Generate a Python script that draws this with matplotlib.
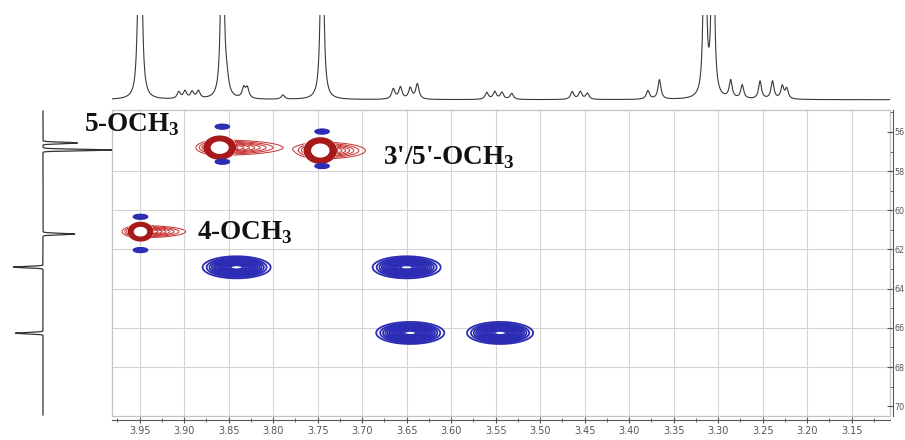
import numpy as np
import matplotlib
matplotlib.use("Agg")
import matplotlib.pyplot as plt
from matplotlib.ticker import MultipleLocator, FormatStrFormatter
from matplotlib.patches import Rectangle

plt.rcParams['mathtext.fontset'] = 'custom'
plt.rcParams['mathtext.rm'] = 'Liberation Serif:bold'
plt.rcParams['mathtext.bf'] = 'Liberation Serif:bold'

# ---------------- data ----------------
# 1H axis (ppm) and 13C axis (ppm)
x_range = (3.981, 3.107)
y_range = (54.88, 70.5)
x_ticks = [3.95, 3.90, 3.85, 3.80, 3.75, 3.70, 3.65, 3.60, 3.55, 3.50,
           3.45, 3.40, 3.35, 3.30, 3.25, 3.20, 3.15]
y_ticks = [56, 58, 60, 62, 64, 66, 68, 70]
y_grid = [58, 60, 62, 64, 66, 68]

# 1H spectrum (top): peak ppm, relative height, half width (ppm)
h1_ppm = [3.952, 3.949, 3.906, 3.899, 3.891, 3.884, 3.857, 3.852, 3.833, 3.829,
          3.789, 3.745, 3.665, 3.657, 3.646, 3.638, 3.560, 3.551, 3.543, 3.532,
          3.464, 3.455, 3.447, 3.379, 3.366, 3.315, 3.306, 3.286, 3.273, 3.253,
          3.239, 3.228, 3.223]
h1_height = [0.45, 4.0, 0.08, 0.09, 0.08, 0.09, 4.0, 0.15, 0.12, 0.12,
             0.05, 4.0, 0.12, 0.14, 0.13, 0.18, 0.08, 0.09, 0.08, 0.07,
             0.09, 0.09, 0.07, 0.10, 0.23, 4.0, 4.0, 0.21, 0.16, 0.21,
             0.21, 0.15, 0.12]
h1_width = [0.0018, 0.0014, 0.0022, 0.0022, 0.0022, 0.0022, 0.0014, 0.0025,
            0.0022, 0.0022, 0.0022, 0.0014, 0.0022, 0.0022, 0.0022, 0.0022,
            0.0022, 0.0022, 0.0022, 0.0022, 0.0022, 0.0022, 0.0022, 0.0022,
            0.0020, 0.0013, 0.0013, 0.0020, 0.0020, 0.0020, 0.0020, 0.0020,
            0.0020]

# 13C projection (left): peak ppm, intensity (positive right, negative left)
c13_ppm = [56.56, 56.92, 61.21, 62.90, 66.27]
c13_int = [0.50, 1.00, 0.46, -0.43, -0.40]
c13_width = 0.035

# positive (red, CH3) cross peaks: 1H ppm, 13C ppm, widths, tail
red_h = [3.860, 3.747, 3.949]
red_c = [56.80, 56.95, 61.09]
red_wh = [0.0110, 0.0112, 0.0085]
red_wc = [0.36, 0.40, 0.29]
red_tail = [0.036, 0.026, 0.026]
red_names = ["5-OCH$_{3}$", "3'/5'-OCH$_{3}$", "4-OCH$_{3}$"]

# negative (blue, CH2) cross peaks
blue_h = [3.841, 3.650, 3.646, 3.545]
blue_c = [62.91, 62.91, 66.26, 66.26]
blue_wh = [0.0170, 0.0170, 0.0170, 0.0165]
blue_wc = [0.25, 0.25, 0.25, 0.25]
# small negative lobes beside the CH3 peaks
lobe_h = [3.857, 3.857, 3.745, 3.745, 3.949, 3.949]
lobe_c = [55.73, 57.52, 55.98, 57.74, 60.33, 62.03]

# ---------------- layout ----------------
W, H = 905, 440
fig = plt.figure(figsize=(W / 100, H / 100), dpi=100)

def rect(x0, y0, x1, y1):
    return [x0 / W, 1 - y1 / H, (x1 - x0) / W, (y1 - y0) / H]

ax = fig.add_axes(rect(112, 110, 890, 416))
ax_top = fig.add_axes(rect(112, 15, 890, 101))
ax_left = fig.add_axes(rect(0, 110, 112, 416))

# ---------------- main 2D ----------------
xg = np.linspace(x_range[0], x_range[1], 1500)
yg = np.linspace(y_range[0], y_range[1], 800)
X, Y = np.meshgrid(xg, yg)

ring = np.zeros_like(X)
tail = np.zeros_like(X)
for h, c, wh, wc, wt in zip(red_h, red_c, red_wh, red_wc, red_tail):
    ring += np.exp(-0.5 * ((X - h) / wh) ** 2 - 0.5 * ((Y - c) / wc) ** 2)
    dx = X - h
    sx = np.where(dx < 0, wt, wh * 1.25)
    tail += np.exp(-0.5 * (dx / sx) ** 2 - 0.5 * ((Y - c) / (wc * 0.55)) ** 2)

blue = np.zeros_like(X)
for h, c, wh, wc in zip(blue_h, blue_c, blue_wh, blue_wc):
    blue += np.exp(-0.5 * ((X - h) / wh) ** 2 - 0.5 * ((Y - c) / wc) ** 2)
for h, c in zip(lobe_h, lobe_c):
    blue += 0.45 * np.exp(-0.5 * ((X - h) / 0.0042) ** 2 - 0.5 * ((Y - c) / 0.06) ** 2)

grid_col = '#d4d4d4'
for xt in x_ticks:
    ax.axvline(xt, color=grid_col, lw=0.8, zorder=0)
for yt in y_grid:
    ax.axhline(yt, color=grid_col, lw=0.8, zorder=0)

ax.contour(X, Y, tail, levels=np.linspace(0.15, 0.85, 8), colors='#c83838',
           linewidths=0.75, zorder=2)
ax.contourf(X, Y, ring, levels=[0.25, 100], colors='white', zorder=3)
ax.contour(X, Y, ring, levels=np.linspace(0.28, 0.6, 7), colors='#a81a1a',
           linewidths=1.25, zorder=4)
ax.contour(X, Y, blue, levels=np.linspace(0.08, 0.92, 15), colors='#2c2cb4',
           linewidths=1.3, zorder=4)

ax.set_xlim(*x_range)
ax.set_ylim(y_range[1], y_range[0])

for s in ['top', 'left']:
    ax.spines[s].set_visible(False)
ax.spines['bottom'].set_position(('outward', 3))
ax.spines['right'].set_position(('outward', 2.2))
ax.spines['bottom'].set_color('#555555')
ax.spines['right'].set_color('#555555')
ax.add_patch(Rectangle((0, 0), 1, 1, transform=ax.transAxes, fill=False,
                       edgecolor='#c4c4c4', lw=0.9, zorder=1, clip_on=False))

ax.xaxis.set_major_locator(MultipleLocator(0.05))
ax.xaxis.set_minor_locator(MultipleLocator(0.025))
ax.xaxis.set_major_formatter(FormatStrFormatter('%.2f'))
ax.yaxis.tick_right()
ax.set_yticks(y_ticks)
ax.yaxis.set_minor_locator(MultipleLocator(1))
ax.tick_params(axis='x', which='major', direction='inout', length=5, width=0.8,
               labelsize=7, labelcolor='#555555', color='#555555', pad=2)
ax.tick_params(axis='x', which='minor', direction='inout', length=3, width=0.6,
               color='#555555')
ax.tick_params(axis='y', which='major', direction='in', length=4.5, width=0.8,
               labelsize=5.8, labelcolor='#555555', color='#555555', pad=1.2)
ax.tick_params(axis='y', which='minor', direction='in', length=2.5, width=0.6,
               color='#555555')

# labels
lab_pos = [(4.012, 55.65), (3.677, 57.3), (3.885, 61.15)]
for name, (lx, ly) in zip(red_names, lab_pos):
    ax.text(lx, ly, name, family='Liberation Serif', weight='bold',
            fontsize=19.5, color='#111111', ha='left', va='center',
            zorder=6, clip_on=False)

# ---------------- top 1H spectrum ----------------
xs = np.linspace(x_range[0], x_range[1], 6000)
spec = np.zeros_like(xs)
for p, hgt, w in zip(h1_ppm, h1_height, h1_width):
    spec += hgt * w ** 2 / (w ** 2 + (xs - p) ** 2)
line, = ax_top.plot(xs, spec, color='#3a3a3a', lw=0.8)
line.set_clip_on(True)
ax_top.set_xlim(*x_range)
ax_top.set_ylim(-0.015, 1.0)
ax_top.axis('off')

# ---------------- left 13C projection ----------------
ys = np.linspace(y_range[0] + 0.05, y_range[1] - 0.05, 8000)
proj = np.zeros_like(ys)
for p, it in zip(c13_ppm, c13_int):
    proj += it * np.exp(-0.5 * ((ys - p) / c13_width) ** 2)
ax_left.plot(proj, ys, color='#333333', lw=0.9)
ax_left.set_xlim(-0.623, 1.0)
ax_left.set_ylim(y_range[1], y_range[0])
ax_left.axis('off')

fig.savefig('out.png', dpi=100)
